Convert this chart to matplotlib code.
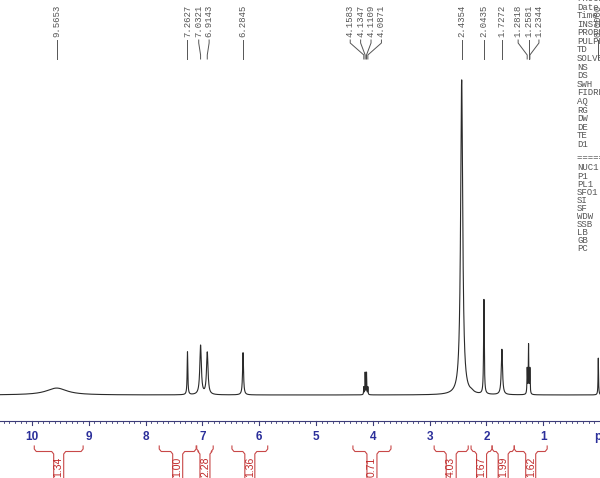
"""1H NMR spectrum redrawn with matplotlib: peak-picked labels on top,
Bruker parameter list on the right, ppm axis and integrals at the bottom.
"""

import numpy as np
import matplotlib.pyplot as plt
from matplotlib.transforms import Affine2D, blended_transform_factory

W_PX, H_PX = 600, 478
DPI = 100

# ppm <-> pixel mapping of the reference (10 ppm at x=32, 56.8 px per ppm)
PPM_LEFT = 10 + 32 / 56.8
PPM_RIGHT = 10 - (W_PX - 32) / 56.8

# spectrum lines: position (ppm), height (tallest = 100), half width (ppm)
peak_ppm = [9.5653, 7.2627, 7.0321, 6.9143, 6.2845,
            4.1583, 4.1347, 4.1109, 4.0871,
            2.4354, 2.26, 2.0435, 1.7272,
            1.2818, 1.2581, 1.2344, 0.03]
peak_height = [2.2, 13.6, 15.6, 13.4, 13.4,
               2.4, 7.0, 7.0, 2.4,
               100.0, 0.5, 30.0, 14.4,
               8.0, 15.6, 8.0, 11.7]
peak_hwhm = [0.22, 0.007, 0.016, 0.016, 0.010,
             0.004, 0.004, 0.004, 0.004,
             0.022, 0.04, 0.007, 0.013,
             0.005, 0.005, 0.005, 0.005]

# peak-pick labels
label_ppm = [9.5653, 7.2627, 7.0321, 6.9143, 6.2845,
             4.1583, 4.1347, 4.1109, 4.0871,
             2.4354, 2.0435, 1.7272, 1.2818, 1.2581, 1.2344, 0.0300]
label_text = ["9.5653", "7.2627", "7.0321", "6.9143", "6.2845",
              "4.1583", "4.1347", "4.1109", "4.0871",
              "2.4354", "2.0435", "1.7272", "1.2818", "1.2581", "1.2344", "0.0000"]

# integrals: (left ppm, right ppm) and value
integral_left = [9.96, 7.76, 7.10, 6.48, 4.35, 2.92, 2.27, 1.90, 1.51]
integral_right = [9.10, 7.11, 6.81, 5.85, 3.68, 2.32, 1.90, 1.51, 0.93]
integral_value = ["1.34", "1.00", "2.28", "1.36", "0.71", "4.03", "1.67", "1.99", "1.62"]

tick_ppm = [10, 9, 8, 7, 6, 5, 4, 3, 2, 1]

param_names = ["PROCNO", "Date_", "Time", "INSTRUM", "PROBHD", "PULPROG", "TD",
               "SOLVENT", "NS", "DS", "SWH", "FIDRES", "AQ", "RG", "DW", "DE",
               "TE", "D1"]
channel_names = ["NUC1", "P1", "PL1", "SFO1", "SI", "SF", "WDW", "SSB", "LB",
                 "GB", "PC"]

SPEC_COLOR = "#2a2a2a"
LABEL_COLOR = "#555555"
AXIS_COLOR = "#3c3c78"
TICK_COLOR = "#2b2f9a"
INT_COLOR = "#c84848"
INT_TEXT = "#c02a2a"
MONO = "Liberation Mono"


def px_to_ppm(x):
    return 10 - (x - 32) / 56.8


def spread_labels(ppms, min_gap_px=10.4):
    """Spread label x positions (px) so neighbouring labels keep a minimum gap."""
    xs = [32 + (10 - p) * 56.8 for p in ppms]
    groups = [[x] for x in xs]
    centers = list(xs)
    changed = True
    while changed:
        changed = False
        for i in range(len(groups) - 1):
            right_edge = centers[i] + (len(groups[i]) - 1) * min_gap_px / 2
            left_edge = centers[i + 1] - (len(groups[i + 1]) - 1) * min_gap_px / 2
            if left_edge - right_edge < min_gap_px:
                merged = groups[i] + groups[i + 1]
                groups[i:i + 2] = [merged]
                centers[i:i + 2] = [np.mean(merged)]
                changed = True
                break
    out = []
    for g, c in zip(groups, centers):
        n = len(g)
        out += [c + (k - (n - 1) / 2) * min_gap_px for k in range(n)]
    return out


def main():
    fig = plt.figure(figsize=(W_PX / DPI, H_PX / DPI), dpi=DPI)
    ax = fig.add_axes([0, 0, 1, 1])
    ax.axis("off")

    # baseline at y=395 px, tallest peak top at y=80 px
    units_per_frac = 100 / ((395 - 80) / H_PX)
    ymin = -(1 - 395 / H_PX) * units_per_frac
    ymax = ymin + units_per_frac
    ax.set_xlim(PPM_LEFT, PPM_RIGHT)
    ax.set_ylim(ymin, ymax)

    # x in ppm, y in pixels from the top of the figure
    px_y = Affine2D().scale(1, -1 / H_PX).translate(0, 1) + fig.transFigure
    trans = blended_transform_factory(ax.transData, px_y)
    fig_px = Affine2D().scale(1 / W_PX, -1 / H_PX).translate(0, 1) + fig.transFigure

    x = np.linspace(PPM_LEFT, PPM_RIGHT - 0.1, 40000)
    y = np.zeros_like(x)
    for p, h, w in zip(peak_ppm, peak_height, peak_hwhm):
        y += h / (1 + ((x - p) / w) ** 2)
    ax.plot(x, y, color=SPEC_COLOR, lw=0.8)

    # peak labels
    label_x = spread_labels(label_ppm)
    for p, lx, t in zip(label_ppm, label_x, label_text):
        lp = px_to_ppm(lx)
        ax.text(lp, 37, t, rotation=90, ha="center", va="bottom", transform=trans,
                fontsize=6.5, family=MONO, color=LABEL_COLOR)
        ax.plot([lp, lp, p, p], [40, 43, 55, 59], color=LABEL_COLOR, lw=0.7,
                transform=trans)

    # ppm axis
    ax.plot([PPM_LEFT, PPM_RIGHT], [420.7, 420.7], color=AXIS_COLOR, lw=0.8,
            transform=trans)
    minor = np.arange(0, 106) / 10
    for m in minor:
        ax.plot([m, m], [420.7, 422.6], color=AXIS_COLOR, lw=0.6, transform=trans)
    for t in tick_ppm:
        ax.plot([t, t], [420.7, 425.5], color=AXIS_COLOR, lw=0.8, transform=trans)
        ax.text(t, 437, str(t), ha="center", va="center", transform=trans,
                fontsize=8.5, fontweight="bold", family="Liberation Sans",
                color=TICK_COLOR)
    fig.text(594, 437, "ppm", ha="left", va="center", transform=fig_px,
             fontsize=8.5, fontweight="bold", family="Liberation Sans",
             color=TICK_COLOR)

    # integrals
    d = 1 / 56.8
    for a, b, v in zip(integral_left, integral_right, integral_value):
        c = (a + b) / 2
        xs_l = [a, a, a - 2 * d, c + 7 * d, c + 5 * d, c + 5 * d]
        xs_r = [c - 5 * d, c - 5 * d, c - 7 * d, b + 2 * d, b, b]
        ys_l = [446, 449, 451.5, 451.5, 454, 480]
        ys_r = [480, 454, 451.5, 451.5, 449, 446]
        ax.plot(xs_l, ys_l, color=INT_COLOR, lw=0.8, transform=trans)
        ax.plot(xs_r, ys_r, color=INT_COLOR, lw=0.8, transform=trans)
        ax.text(c, 466.5, v, rotation=90, ha="center", va="center", transform=trans,
                fontsize=7.5, family="Liberation Sans", color=INT_TEXT)

    # acquisition parameters (cut by the right edge, as in the reference)
    for i, name in enumerate(param_names):
        fig.text(577, -1.5 + 8.58 * i, name, ha="left", va="center", transform=fig_px,
                 fontsize=6.5, family=MONO, color=LABEL_COLOR)
    fig.text(577, 157, "======== CHANNEL f1 ========", ha="left", va="center",
             transform=fig_px, fontsize=6.5, family=MONO, color=LABEL_COLOR)
    for i, name in enumerate(channel_names):
        fig.text(577, 168 + 8.1 * i, name, ha="left", va="center", transform=fig_px,
                 fontsize=6.5, family=MONO, color=LABEL_COLOR)

    fig.savefig("out.png", dpi=DPI)
    plt.close(fig)


if __name__ == "__main__":
    main()
